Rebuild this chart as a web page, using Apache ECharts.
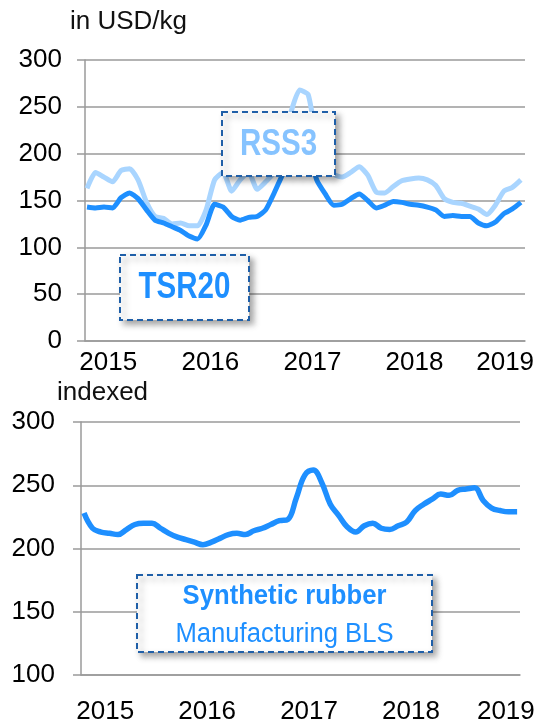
<!DOCTYPE html>
<html>
<head>
<meta charset="utf-8">
<script src="https://cdn.jsdelivr.net/npm/echarts@6/dist/echarts.min.js"></script>
<style>
  html, body { margin: 0; padding: 0; background: #fff; }
  #chart { width: 545px; height: 725px; }
</style>
</head>
<body>
<div id="chart"></div>
<script>
// Monthly observations, Oct 2014 – Jan 2019
const months = [
  '2014-10', '2014-11', '2014-12',
  '2015-01', '2015-02', '2015-03', '2015-04', '2015-05', '2015-06', '2015-07', '2015-08', '2015-09', '2015-10', '2015-11', '2015-12',
  '2016-01', '2016-02', '2016-03', '2016-04', '2016-05', '2016-06', '2016-07', '2016-08', '2016-09', '2016-10', '2016-11', '2016-12',
  '2017-01', '2017-02', '2017-03', '2017-04', '2017-05', '2017-06', '2017-07', '2017-08', '2017-09', '2017-10', '2017-11', '2017-12',
  '2018-01', '2018-02', '2018-03', '2018-04', '2018-05', '2018-06', '2018-07', '2018-08', '2018-09', '2018-10', '2018-11', '2018-12',
  '2019-01'
];

// Natural rubber prices, USD/kg (scaled)
const rss3 = [
  163, 180, 175,
  170, 182, 184, 172, 148, 133, 131, 125, 126, 123, 123, 140,
  172, 180, 160, 172, 180, 162, 170, 180, 205, 245, 268, 263,
  215, 192, 178, 175, 180, 186, 177, 159, 158, 165, 171, 173,
  174, 172, 166, 152, 148, 147, 144, 141, 135, 145, 160, 164,
  172
];
const tsr20 = [
  143, 142, 143,
  142, 153, 158, 152, 140, 129, 126, 122, 118, 112, 109, 124,
  146, 143, 133, 129, 132, 133, 140, 158, 178, 195, 212, 205,
  172, 157, 145, 146, 152, 157, 150, 142, 145, 149, 148, 146,
  145, 143, 140, 133, 134, 133, 133, 126, 123, 127, 136, 141,
  148
];

// Synthetic rubber, producer price index (Manufacturing, BLS)
const synthetic = [
  228, 216, 213,
  212, 211, 215, 219, 220, 220, 216, 212, 209, 207, 205, 203,
  205, 208, 211, 212, 211, 214, 216, 219, 222, 223, 240, 258,
  262, 252, 235, 226, 217, 213, 218, 220, 216, 215, 218, 221,
  230, 235, 239, 243, 242, 246, 247, 248, 238, 232, 230, 229,
  229
];

const yearTicks = [2015, 2016, 2017, 2018, 2019];
const priceTicks = { min: 0, max: 300, step: 50 };
const indexTicks = { min: 100, max: 300, step: 50 };

const FONT = "'Liberation Sans', Arial, sans-serif";
const GRID_GRAY = '#9a9a9a';
const DARK_BLUE = '#1E8FFF';
const LIGHT_BLUE = '#A9D5FF';
const BOX_EDGE = '#1F5FA8';

function monthToYear(m) {
  const [y, mo] = m.split('-').map(Number);
  return y + (mo - 0.5) / 12;
}
const xs = months.map(monthToYear);
const pairs = vals => vals.map((v, i) => [xs[i], v]);

function xAxisFor(gridIndex, min, max, margin, lastPad) {
  return {
    gridIndex, type: 'value', min, max,
    axisLine: { show: true, lineStyle: { color: GRID_GRAY, width: 1.5 } },
    axisTick: { show: false },
    splitLine: { show: false },
    axisLabel: {
      customValues: yearTicks,
      margin,
      color: '#000', fontFamily: FONT, fontSize: 26,
      formatter: v => (v === yearTicks[yearTicks.length - 1] ? '{last|' + v + '}' : String(v)),
      rich: { last: { color: '#000', fontFamily: FONT, fontSize: 26, padding: [0, lastPad, 0, 0] } }
    }
  };
}

function yAxisFor(gridIndex, t, margin) {
  return {
    gridIndex, type: 'value', min: t.min, max: t.max, interval: t.step,
    axisLine: { show: true, lineStyle: { color: GRID_GRAY, width: 1.5 } },
    axisTick: { show: true, length: 8, lineStyle: { color: GRID_GRAY, width: 1.5 } },
    splitLine: { show: true, lineStyle: { color: GRID_GRAY, width: 1.5 } },
    axisLabel: { margin, color: '#000', fontFamily: FONT, fontSize: 26 }
  };
}

function labelBox(x, y, w, h) {
  return {
    type: 'rect', z: 100,
    shape: { x, y, width: w, height: h },
    style: {
      fill: '#fff', stroke: BOX_EDGE, lineWidth: 2, lineDash: [6, 4],
      shadowBlur: 6, shadowOffsetX: 4, shadowOffsetY: 4, shadowColor: 'rgba(0,0,0,0.35)'
    }
  };
}
function label(text, x, y, size, weight, color, sx) {
  return {
    type: 'text', z: 101, x, y, scaleX: sx || 1,
    style: { text, fill: color, font: weight + ' ' + size + 'px ' + FONT, align: 'center', verticalAlign: 'middle' }
  };
}

const chart = echarts.init(document.getElementById('chart'));
chart.setOption({
  animation: false,
  backgroundColor: '#fff',
  grid: [
    { left: 85, top: 60, width: 440, height: 281 },
    { left: 81, top: 422, width: 439, height: 255 }
  ],
  xAxis: [
    xAxisFor(0, 2014.772, 2019.082, 9, 23),
    xAxisFor(1, 2014.762, 2019.070, 24, 14)
  ],
  yAxis: [
    yAxisFor(0, priceTicks, 23),
    yAxisFor(1, indexTicks, 26)
  ],
  series: [
    {
      name: 'RSS3', type: 'line', xAxisIndex: 0, yAxisIndex: 0,
      data: pairs(rss3), showSymbol: false, smooth: 0.2,
      lineStyle: { color: LIGHT_BLUE, width: 5 }
    },
    {
      name: 'TSR20', type: 'line', xAxisIndex: 0, yAxisIndex: 0,
      data: pairs(tsr20), showSymbol: false, smooth: 0.2,
      lineStyle: { color: DARK_BLUE, width: 5 }
    },
    {
      name: 'Synthetic rubber', type: 'line', xAxisIndex: 1, yAxisIndex: 1,
      data: pairs(synthetic), showSymbol: false, smooth: 0.4,
      lineStyle: { color: DARK_BLUE, width: 5.5 }
    }
  ],
  graphic: [
    { type: 'text', x: 70, y: 22, style: { text: 'in USD/kg', fill: '#111', font: '26px ' + FONT, verticalAlign: 'middle' } },
    { type: 'text', x: 57, y: 393, style: { text: 'indexed', fill: '#111', font: '26px ' + FONT, verticalAlign: 'middle' } },
    labelBox(222, 112, 113, 64),
    label('RSS3', 278.5, 145, 36, 'bold', '#86C3FF', 0.82),
    labelBox(120, 255, 129, 65),
    label('TSR20', 184.5, 288, 36, 'bold', DARK_BLUE, 0.82),
    labelBox(137, 575, 295, 77),
    label('Synthetic rubber', 284.5, 597, 27, 'bold', DARK_BLUE, 0.95),
    label('Manufacturing BLS', 284.5, 635, 27, 'normal', DARK_BLUE, 0.95)
  ]
});
</script>
</body>
</html>
